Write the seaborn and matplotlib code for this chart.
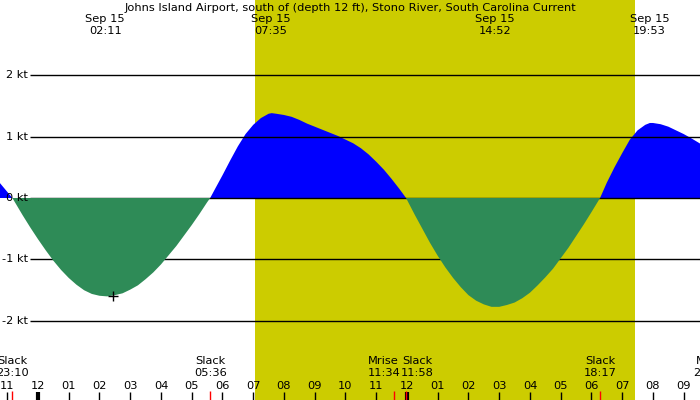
import numpy as np
import pandas as pd
import seaborn as sns
import matplotlib.pyplot as plt
import matplotlib.transforms as mtransforms

# current speed (kt), time in hours from midnight Sep 15
hours = [-1.25, -1.0, -0.833, -0.75, -0.5, -0.25, 0.0, 0.25, 0.5, 0.75, 1.0, 1.25,
         1.5, 1.75, 2.0, 2.25, 2.5, 2.75, 3.0, 3.25, 3.5, 3.75, 4.0, 4.25, 4.5,
         4.75, 5.0, 5.25, 5.5, 5.6,
         5.75, 6.0, 6.25, 6.5, 6.75, 7.0, 7.25, 7.5, 7.6, 7.75, 8.0, 8.25, 8.5,
         8.75, 9.0, 9.25, 9.5, 9.75, 10.0, 10.25, 10.5, 10.75, 11.0, 11.25, 11.5,
         11.75, 11.97,
         12.25, 12.5, 12.75, 13.0, 13.25, 13.5, 13.75, 14.0, 14.25, 14.5, 14.75,
         15.0, 15.25, 15.5, 15.75, 16.0, 16.25, 16.5, 16.75, 17.0, 17.25, 17.5,
         17.75, 18.0, 18.28,
         18.5, 18.75, 19.0, 19.25, 19.5, 19.75, 19.9, 20.0, 20.25, 20.5, 20.75,
         21.0, 21.25, 21.55]
speed = [0.25, 0.10, 0.0, -0.07, -0.28, -0.48, -0.67, -0.85, -1.02, -1.17, -1.30,
         -1.41, -1.50, -1.56, -1.59, -1.60, -1.58, -1.55, -1.49, -1.42, -1.32,
         -1.21, -1.08, -0.93, -0.78, -0.61, -0.44, -0.26, -0.07, 0.0,
         0.14, 0.37, 0.61, 0.84, 1.04, 1.19, 1.30, 1.37, 1.38, 1.37, 1.35, 1.32,
         1.27, 1.21, 1.16, 1.11, 1.06, 1.01, 0.95, 0.89, 0.81, 0.71, 0.59, 0.46,
         0.31, 0.15, 0.0,
         -0.27, -0.50, -0.73, -0.94, -1.13, -1.30, -1.45, -1.58, -1.67, -1.73,
         -1.77, -1.77, -1.74, -1.70, -1.63, -1.54, -1.42, -1.29, -1.15, -0.98,
         -0.81, -0.62, -0.43, -0.23, 0.0,
         0.25, 0.50, 0.73, 0.95, 1.10, 1.19, 1.22, 1.22, 1.20, 1.16, 1.10,
         1.04, 0.97, 0.88]

title = "Johns Island Airport, south of (depth 12 ft), Stono River, South Carolina Current"

# max flood / max ebb times (top labels)
peak_hours = [2.183, 7.583, 14.867, 19.883]
peak_labels = ["02:11", "07:35", "14:52", "19:53"]

# events along the bottom
event_hours = [-0.833, 5.6, 11.567, 11.967, 18.283, 21.85]
event_names = ["Slack", "Slack", "Mrise", "Slack", "Slack", "Mset"]
event_times = ["23:10", "05:36", "11:34", "11:58", "18:17", "21:51"]
event_shift = [0, 0, -10, 11, 0, 0]

sunrise, sunset = 7.05, 19.41
now_hour, now_speed = 2.44, -1.6

kt_levels = [-2, -1, 0, 1, 2]
hour_ticks = list(range(-1, 22))
hour_labels = ["%02d" % (((h - 1) % 12) + 1) for h in hour_ticks]

df = pd.DataFrame({"hour": hours, "speed": speed})

sns.set_style("white")
plt.rcParams["font.family"] = ["DejaVu Sans"]
plt.rcParams["text.color"] = "black"
fs = 8.2

fig = plt.figure(figsize=(7, 4), dpi=100)
ax = fig.add_axes([0, 0, 1, 1])
ax.set_facecolor("#c0c0c0")
x0, x1 = -1.236, 21.53
ax.set_xlim(x0, x1)
ax.set_ylim(-3.285, 3.22)
ax.axis("off")

ax.axvspan(sunrise, sunset, color="#cccc00", zorder=0, lw=0)

ax.fill_between(df["hour"], df["speed"], 0, where=df["speed"] >= 0,
                interpolate=True, color="#0000ff", lw=0, zorder=1)

# grid lines, left side labels
lx = x0 + 30 / 30.75
for k in kt_levels:
    ax.hlines(k, lx, x1, color="black", lw=1, zorder=2)
    ax.text(lx - 2 / 30.75, k, "%d kt" % k, ha="right", va="center", fontsize=fs, zorder=5)

ax.fill_between(df["hour"], df["speed"], 0, where=df["speed"] <= 0,
                interpolate=True, color="#2e8b57", lw=0, zorder=3)

sns.scatterplot(x=[now_hour], y=[now_speed], marker="+", s=60, color="black",
                linewidth=1, ax=ax, zorder=6, legend=False)

trans = mtransforms.blended_transform_factory(ax.transData, ax.transAxes)

ax.text(0.5, 1 - 8 / 400, title, transform=ax.transAxes, ha="center", va="center", fontsize=fs)
for h, lab in zip(peak_hours, peak_labels):
    ax.text(h, 1 - 19.5 / 400, "Sep 15", transform=trans, ha="center", va="center", fontsize=fs)
    ax.text(h, 1 - 31.5 / 400, lab, transform=trans, ha="center", va="center", fontsize=fs)

# hour ticks at bottom
for h, lab in zip(hour_ticks, hour_labels):
    ax.text(h, 1 - 386 / 400, lab, transform=trans, ha="center", va="center", fontsize=fs)
    lw = 3 if h % 12 == 0 else 1
    ax.plot([h, h], [0, 8 / 400], transform=trans, color="black", lw=lw, zorder=4,
            solid_capstyle="butt", clip_on=False)

for h, name, t, dx in zip(event_hours, event_names, event_times, event_shift):
    ax.plot([h, h], [0, 9 / 400], transform=trans, color="red", lw=1, zorder=5,
            solid_capstyle="butt")
    xt = h + dx / 30.75
    ax.text(xt, 1 - 360.5 / 400, name, transform=trans, ha="center", va="center", fontsize=fs)
    ax.text(xt, 1 - 373 / 400, t, transform=trans, ha="center", va="center", fontsize=fs)

fig.savefig("out.png", dpi=100)
